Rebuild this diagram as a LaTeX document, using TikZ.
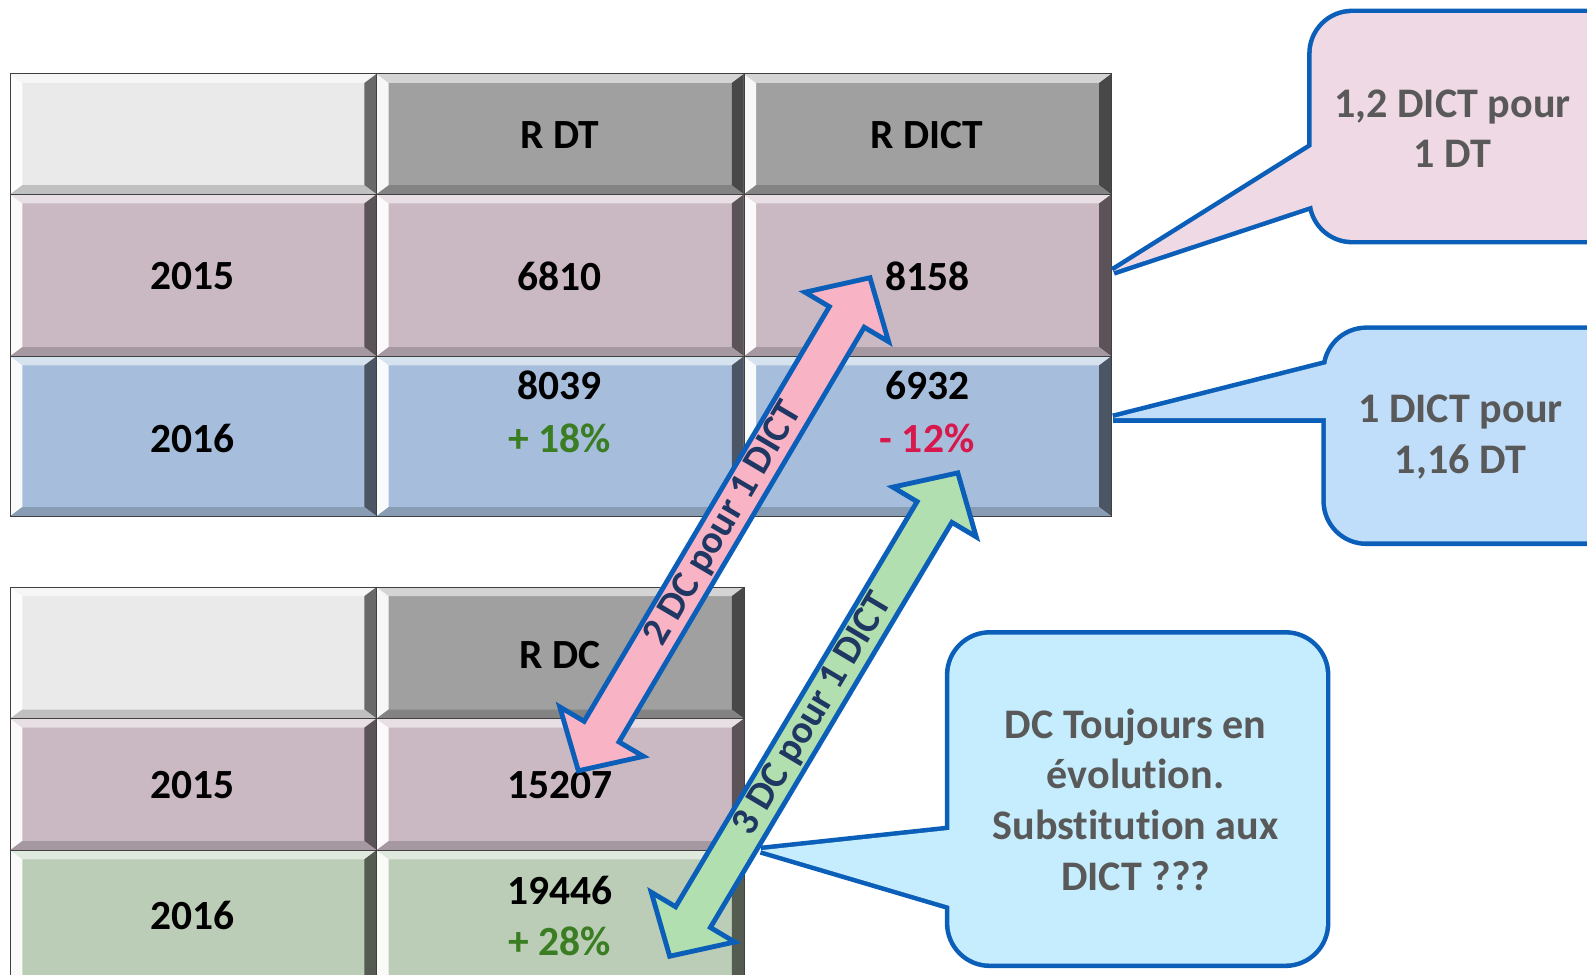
\documentclass[tikz,border=0pt]{standalone}
\usepackage{fontspec}
\setmainfont{Carlito}[Ligatures=NoCommon]
\usetikzlibrary{calc}

\definecolor{headgray}{HTML}{A0A0A0}
\definecolor{emptygray}{HTML}{EAEAEA}
\definecolor{rowmauve}{HTML}{CAB9C3}
\definecolor{rowblue}{HTML}{A6BEDC}
\definecolor{rowgreen}{HTML}{BBCDB6}
\definecolor{upgreen}{HTML}{3B7D23}
\definecolor{downred}{HTML}{D8174C}
\definecolor{edgeblue}{HTML}{0C5FB8}
\definecolor{notegray}{HTML}{595959}
\definecolor{arrowink}{HTML}{1F3763}
\definecolor{pinkfill}{HTML}{F8B3C5}
\definecolor{greenfill}{HTML}{B2DFAF}
\definecolor{pinknote}{HTML}{EFD9E4}
\definecolor{bluenote}{HTML}{C0DDF9}
\definecolor{cyannote}{HTML}{C5EDFD}

% bevelled table cell: x1 y1 x2 y2 colour
\newcommand{\bevcell}[5]{%
  \fill[#5] (#1,#2) rectangle (#3,#4);
  \fill[#5!45!white] (#1,#2) -- (#3,#2) -- ({#3-12},{#2+9}) -- ({#1+12},{#2+9}) -- cycle;
  \fill[white!92!#5] (#1,#2) -- ({#1+12},{#2+9}) -- ({#1+12},{#4-9}) -- (#1,#4) -- cycle;
  \fill[#5!45!black] (#3,#2) -- ({#3-12},{#2+9}) -- ({#3-12},{#4-9}) -- (#3,#4) -- cycle;
  \fill[#5!82!black] (#1,#4) -- ({#1+12},{#4-9}) -- ({#3-12},{#4-9}) -- (#3,#4) -- cycle;
  \draw[black!75, line width=0.4pt] (#1,#2) rectangle (#3,#4);
}

% speech bubble: x1 y1 x2 y2 base-y1 base-y2 tip colour
\newcommand{\bubble}[8]{%
  \draw[edgeblue, line width=4.5pt, rounded corners=20pt] (#1,#2) rectangle (#3,#4);
  \draw[edgeblue, line width=4.5pt] ($(#7)!1.1!(#1,#5)$) -- (#7);
  \draw[edgeblue, line width=4.5pt] ($(#7)!1.1!(#1,#6)$) -- (#7);
  \fill[#8, rounded corners=20pt] (#1,#2) rectangle (#3,#4);
  \fill[#8] (#7) -- ($(#7)!1.1!(#1,#5)$) -- ($(#7)!1.1!(#1,#6)$) -- cycle;
}

\tikzset{
  cell/.style={font=\bfseries\fontsize{20.5}{26}\selectfont},
  note/.style={font=\bfseries\fontsize{20.8}{25}\selectfont, text=notegray, align=center},
  arrowlabel/.style={font=\bfseries\fontsize{19.5}{24}\selectfont, text=arrowink, transform shape},
  bigarrow/.style={draw=edgeblue, line width=2.4pt, line join=miter},
}

\begin{document}
\begin{tikzpicture}[x=0.5pt, y=-0.5pt]
 \path[use as bounding box] (0,0) rectangle (1568,963);

 % top table
 \bevcell{10}{73}{372}{192}{emptygray}
 \bevcell{372}{73}{735}{192}{headgray}
 \bevcell{735}{73}{1098}{192}{headgray}
 \bevcell{10}{192}{372}{352}{rowmauve}
 \bevcell{372}{192}{735}{352}{rowmauve}
 \bevcell{735}{192}{1098}{352}{rowmauve}
 \bevcell{10}{352}{372}{510}{rowblue}
 \bevcell{372}{352}{735}{510}{rowblue}
 \bevcell{735}{352}{1098}{510}{rowblue}

 % bottom table
 \bevcell{10}{580}{372}{710}{emptygray}
 \bevcell{372}{580}{735}{710}{headgray}
 \bevcell{10}{710}{372}{840}{rowmauve}
 \bevcell{372}{710}{735}{840}{rowmauve}
 \bevcell{10}{840}{372}{990}{rowgreen}
 \bevcell{372}{840}{735}{990}{rowgreen}

 \node[cell] (rdt) at (553,133) {R DT};
 \node[cell] (rdict) at (916,133) {R DICT};
 \node[cell] (y15a) at (190,273) {2015};
 \node[cell] (dt15) at (553,273) {6810};
 \node[cell] (dict15) at (916,273) {8158};
 \node[cell] (y16a) at (190,433) {2016};
 \node[cell] (dt16) at (553,381) {8039};
 \node[cell, text=upgreen] (dt16p) at (553,433) {+ 18\%};
 \node[cell] (dict16) at (916,381) {6932};
 \node[cell, text=downred] (dict16p) at (916,433) {- 12\%};

 \node[cell] (rdc) at (553,647) {R DC};
 \node[cell] (y15b) at (190,776) {2015};
 \node[cell] (dc15) at (553,776) {15207};
 \node[cell] (y16b) at (190,905) {2016};
 \node[cell] (dc16) at (553,880) {19446};
 \node[cell, text=upgreen] (dc16p) at (553,930) {+ 28\%};

 % bubbles
 \coordinate (tipa) at (1100,268);
 \coordinate (tipb) at (1100,413);
 \coordinate (tipc) at (752,840);
 \bubble{1296}{13}{1640}{237}{145}{203}{tipa}{pinknote}
 \bubble{1310}{326}{1640}{535}{360}{413}{tipb}{bluenote}
 \bubble{938}{627}{1310}{952}{820}{895}{tipc}{cyannote}
 \node[note] (ratio15) at (1435,127) {1,2 DICT pour\\1 DT};
 \node[note] (ratio16) at (1443,432) {1 DICT pour\\1,16 DT};
 \node[note] (dcnote) at (1122,790) {DC Toujours en\\évolution.\\Substitution aux\\DICT ???};

 % double arrows
 \begin{scope}[shift={(715.5,518)}, rotate=59.4]
  \draw[bigarrow, fill=pinkfill] (-283,0) -- (-238,48) -- (-238,20) -- (238,20) -- (238,48)
   -- (283,0) -- (238,-48) -- (238,-20) -- (-238,-20) -- (-238,-48) -- cycle;
  \node[arrowlabel] (two) at (0,0) {2 DC pour 1 DICT};
 \end{scope}
 \begin{scope}[shift={(804,706)}, rotate=59.2]
  \draw[bigarrow, fill=greenfill] (-278,0) -- (-233,48) -- (-233,20) -- (233,20) -- (233,48)
   -- (278,0) -- (233,-48) -- (233,-20) -- (-233,-20) -- (-233,-48) -- cycle;
  \node[arrowlabel] (three) at (0,0) {3 DC pour 1 DICT};
 \end{scope}
\end{tikzpicture}
\end{document}
